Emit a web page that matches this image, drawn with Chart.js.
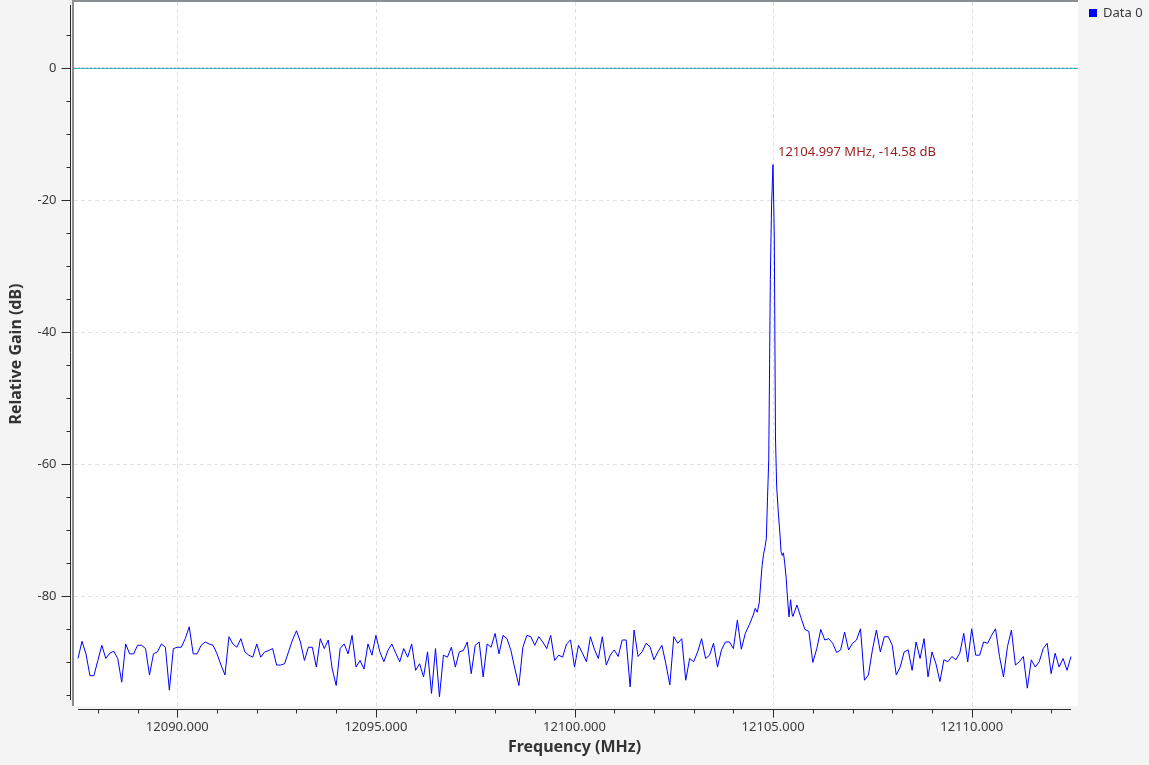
<!DOCTYPE html>
<html>
<head>
<meta charset="utf-8" />
<title>Relative Gain vs Frequency</title>
<script src="https://cdn.jsdelivr.net/npm/chart.js@4.4.0/dist/chart.umd.min.js"></script>
<style>
  html,
  body {
    margin: 0;
    padding: 0;
    background: #f3f4f3;
  }
  #freq-chart {
    display: block;
  }
</style>
</head>
<body>
<canvas id="freq-chart" width="1149" height="765"></canvas>
<script>
// -----------DATA----------
// Spectrum bins: 0.1 MHz apart starting at freqStart (null = bin covered by the finer peak readings below)
const freqStart = 12087.5;
const freqStep = 0.1;
const gainDb = [
  -89.4, -86.8, -88.7, -92.0, -92.0, -89.7, -87.4, -89.4, -88.6, -88.3,
  -89.4, -93.0, -87.2, -88.7, -88.7, -87.4, -87.4, -87.9, -91.9, -88.7,
  -88.4, -87.2, -87.7, -94.2, -87.9, -87.7, -87.7, -86.4, -84.6, -88.7,
  -88.7, -87.4, -86.9, -87.2, -87.4, -88.7, -90.4, -91.9, -86.1, -87.2,
  -87.7, -86.4, -88.4, -88.9, -89.2, -87.2, -89.2, -88.4, -88.2, -87.9,
  -90.4, -90.4, -90.2, -88.4, -86.6, -85.2, -86.9, -89.7, -87.7, -87.7,
  -90.7, -86.4, -87.9, -86.6, -91.0, -93.5, -87.9, -87.2, -88.7, -85.9,
  -90.7, -89.7, -91.0, -87.2, -88.9, -85.9, -88.4, -89.9, -88.2, -87.2,
  -88.6, -89.9, -87.9, -89.2, -87.2, -91.2, -90.2, -92.2, -88.4, -94.7,
  -87.9, -95.2, -88.9, -89.2, -87.7, -90.7, -88.4, -88.2, -86.9, -91.7,
  -87.4, -86.9, -92.2, -87.2, -87.7, -85.6, -88.7, -85.9, -86.4, -88.2,
  -91.0, -93.5, -87.7, -85.9, -86.1, -87.4, -86.1, -86.9, -87.9, -85.9,
  -89.7, -88.9, -89.2, -87.2, -86.6, -90.7, -87.4, -88.6, -89.9, -86.1,
  -88.0, -89.4, -86.1, -90.4, -88.9, -88.1, -89.1, -86.6, -86.6, -93.7,
  -85.1, -89.1, -88.4, -87.1, -87.6, -89.6, -88.4, -87.4, -90.2, -93.4,
  -86.1, -87.1, -86.4, -92.7, -89.4, -89.9, -88.4, -86.4, -89.4, -88.9,
  -87.1, -90.7, -88.1, -86.9, -86.9, -87.9, -83.6, -88.0, -85.6, -84.3,
  null, null, null, null, null, null, null, null, null, null, null,
  -81.3, -83.2, -85.0, -85.3, -90.0, -87.9, -85.0, -86.6, -86.4,
  -87.1, -88.5, -88.1, -85.4, -88.1, -87.1, -86.6, -84.9, -92.7, -91.9,
  -88.1, -85.1, -88.4, -86.1, -86.1, -87.4, -91.9, -90.7, -88.4, -88.1,
  -91.2, -86.9, -89.4, -86.4, -92.2, -88.4, -90.2, -92.9, -89.6, -89.9,
  -89.1, -89.6, -88.6, -85.6, -89.9, -84.9, -88.9, -88.9, -86.9, -87.1,
  -85.9, -84.9, -89.1, -92.2, -87.6, -85.1, -90.4, -89.9, -89.1, -93.9,
  -89.6, -90.7, -89.9, -87.9, -87.1, -91.7, -88.6, -90.7, -89.4, -91.2, -89.1,
];

// Finer readings around the carrier
const peakFreqs = [
  12104.5, 12104.55, 12104.6, 12104.65, 12104.69, 12104.72, 12104.76, 12104.8, 12104.83, 12104.86,
  12104.89, 12104.93, 12104.96, 12104.997, 12105.03, 12105.06, 12105.09, 12105.13, 12105.17, 12105.2,
  12105.23, 12105.26, 12105.29, 12105.33, 12105.36, 12105.4, 12105.44, 12105.48, 12105.5,
];
const peakDb = [
  -82.8, -81.8, -82.4, -81.0, -77.8, -75.5, -73.6, -72.4, -71.2, -64.9,
  -59.3, -32.0, -21.0, -14.58, -25.5, -56.0, -63.4, -67.2, -70.4, -73.2,
  -73.8, -73.4, -74.8, -77.3, -80.1, -83.1, -80.5, -82.8, -83.0,
];

const markerFreq = 12104.997;
const markerGain = -14.58;
const seriesName = "Data 0";

// Tick labels
const xTickLabels = [12090, 12095, 12100, 12105, 12110];
const yTickLabels = [0, -20, -40, -60, -80];

// Axis ranges
const xMin = 12087.399;
const xMax = 12112.676;
const yMin = -96.6;
const yMax = 10.05;

const FONT = '"Noto Sans", "DejaVu Sans", sans-serif';

// Build trace points from bins + peak readings
const freqEnd = freqStart + (gainDb.length - 1) * freqStep;
const tracePoints = [];
gainDb.forEach((g, i) => {
  if (g !== null) tracePoints.push({ x: freqStart + i * freqStep, y: g });
});
peakFreqs.forEach((f, i) => tracePoints.push({ x: f, y: peakDb[i] }));
tracePoints.sort((a, b) => a.x - b.x);

// -------------------PLUGIN: frame, grid, axes, legend, marker---------------------------
function strokeLine(ctx, x1, y1, x2, y2) {
  ctx.beginPath();
  ctx.moveTo(x1, y1);
  ctx.lineTo(x2, y2);
  ctx.stroke();
}

const plotDecorations = {
  id: "plotDecorations",
  beforeDraw(chart) {
    const { ctx, chartArea: a } = chart;
    const xs = chart.scales.x;
    const ys = chart.scales.y;
    ctx.save();
    ctx.fillStyle = "#f3f4f3";
    ctx.fillRect(0, 0, chart.width, chart.height);
    ctx.fillStyle = "#ffffff";
    ctx.fillRect(a.left, a.top, a.right - a.left, a.bottom - a.top);

    // grey frame on the left and top
    ctx.fillStyle = "#8c8f92";
    ctx.fillRect(a.left - 2, 0, 2, a.bottom);
    ctx.fillRect(a.left - 2, 0, a.right - a.left + 2, a.top);

    // dashed grid on major ticks
    ctx.strokeStyle = "#e2e2e2";
    ctx.lineWidth = 1;
    ctx.setLineDash([4, 3]);
    xTickLabels.forEach((v) => {
      const px = Math.round(xs.getPixelForValue(v)) + 0.5;
      strokeLine(ctx, px, a.top, px, a.bottom);
    });
    yTickLabels.forEach((v) => {
      const py = Math.round(ys.getPixelForValue(v)) + 0.5;
      strokeLine(ctx, a.left, py, a.right, py);
    });
    ctx.restore();
  },
  afterDraw(chart) {
    const { ctx, chartArea: a } = chart;
    const xs = chart.scales.x;
    const ys = chart.scales.y;
    ctx.save();
    ctx.strokeStyle = "#2b2b2b";
    ctx.lineWidth = 1;

    // Y axis
    const axisX = a.left - 3.5;
    strokeLine(ctx, axisX, a.top + 3, axisX, a.bottom - 6);
    for (let v = 5; v >= -95; v -= 5) {
      const py = Math.round(ys.getPixelForValue(v)) + 0.5;
      const len = v % 20 === 0 ? 9 : 4;
      strokeLine(ctx, axisX - len, py, axisX, py);
    }
    ctx.fillStyle = "#3a3a3a";
    ctx.font = "13px " + FONT;
    ctx.textAlign = "right";
    ctx.textBaseline = "middle";
    yTickLabels.forEach((v) => {
      ctx.fillText(String(v), axisX - 14, ys.getPixelForValue(v));
    });

    // X axis
    const axisY = a.bottom + 3.5;
    const x1 = xs.getPixelForValue(freqStart);
    const x2 = xs.getPixelForValue(freqEnd);
    strokeLine(ctx, x1, axisY, x2, axisY);
    for (let f = Math.ceil(freqStart); f <= freqEnd; f++) {
      const px = Math.round(xs.getPixelForValue(f)) + 0.5;
      const len = f % 5 === 0 ? 8 : 4;
      strokeLine(ctx, px, axisY, px, axisY + len);
    }
    ctx.textAlign = "center";
    xTickLabels.forEach((v) => {
      ctx.fillText(v.toFixed(3), xs.getPixelForValue(v), axisY + 18);
    });

    // Axis titles
    ctx.fillStyle = "#333333";
    ctx.font = "bold 16px " + FONT;
    ctx.fillText("Frequency (MHz)", (x1 + x2) / 2, axisY + 38);
    ctx.save();
    ctx.translate(16, (a.top + a.bottom) / 2);
    ctx.rotate(-Math.PI / 2);
    ctx.fillText("Relative Gain (dB)", 0, 0);
    ctx.restore();

    // Legend (outside, top right)
    ctx.fillStyle = "#0000ff";
    ctx.fillRect(a.right + 11, 9, 8, 8);
    ctx.fillStyle = "#3a3a3a";
    ctx.font = "13px " + FONT;
    ctx.textAlign = "left";
    ctx.fillText(seriesName, a.right + 25, 13);

    // Peak marker label
    ctx.fillStyle = "#9a1c1c";
    ctx.fillText(
      markerFreq.toFixed(3) + " MHz, " + markerGain.toFixed(2) + " dB",
      xs.getPixelForValue(markerFreq) + 5,
      ys.getPixelForValue(markerGain) - 12
    );
    ctx.restore();
  },
};

// -------------------CHART---------------------------
const chartCanvas = document.getElementById("freq-chart");

const freqChart = new Chart(chartCanvas, {
  type: "line",
  data: {
    datasets: [
      {
        label: seriesName,
        data: tracePoints,
        borderColor: "#0000ff",
        borderWidth: 1,
        pointRadius: 0,
        tension: 0,
      },
      {
        label: "zero-a",
        data: [
          { x: xMin, y: 0 },
          { x: xMax, y: 0 },
        ],
        borderColor: "#1fb8c0",
        borderWidth: 1,
        pointRadius: 0,
      },
      {
        label: "zero-b",
        data: [
          { x: xMin, y: 0 },
          { x: xMax, y: 0 },
        ],
        borderColor: "#e03434",
        borderWidth: 1,
        borderDash: [2, 2],
        pointRadius: 0,
      },
    ],
  },
  options: {
    responsive: false,
    animation: false,
    devicePixelRatio: 1,
    layout: {
      padding: {
        left: 74,
        top: 2,
        right: 71,
        bottom: 59,
      },
    },
    scales: {
      x: {
        type: "linear",
        min: xMin,
        max: xMax,
        display: false,
      },
      y: {
        min: yMin,
        max: yMax,
        display: false,
      },
    },
    plugins: {
      legend: { display: false },
      tooltip: { enabled: false },
    },
  },
  plugins: [plotDecorations],
});
</script>
</body>
</html>
